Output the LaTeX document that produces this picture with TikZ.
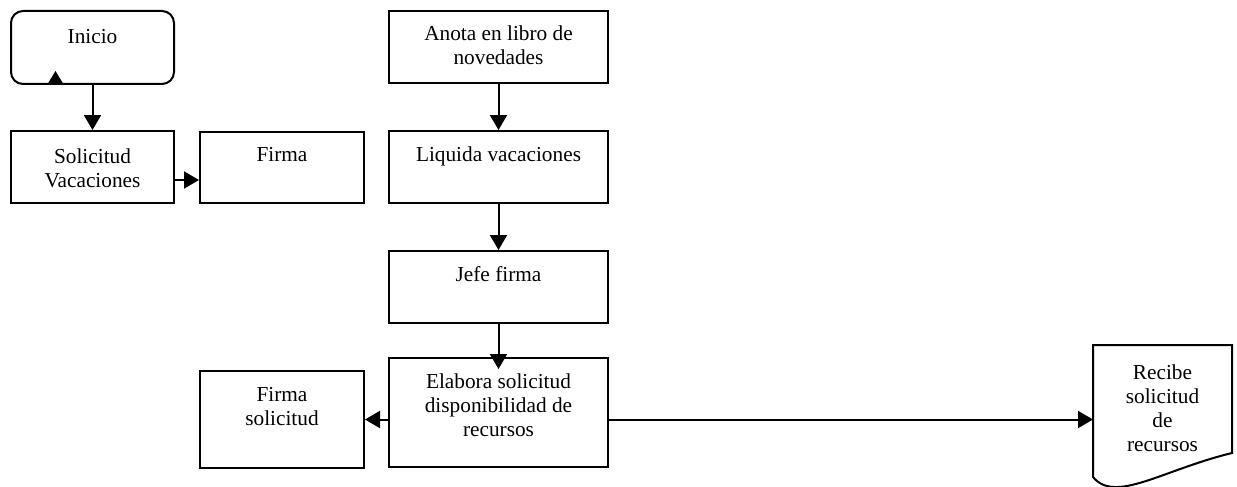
\documentclass[tikz,border=0pt]{standalone}
\usepackage{fontspec}
\setmainfont{Liberation Serif}
\usetikzlibrary{arrows.meta}
% centred lines whose baseline is that of the first line
\newcommand\toplines[1]{\begin{tabular}[t]{@{}c@{}}#1\end{tabular}}
\begin{document}
\begin{tikzpicture}[x=1pt,y=-1pt,
  font=\fontsize{21.3}{24}\selectfont,
  % process box: #1 = width, #2 = depth below the first baseline
  box/.style 2 args={draw, line width=2pt, rectangle,
    inner xsep=4pt, inner ysep=0pt, text height=30pt,
    minimum width=#1, text depth=#2, anchor=north west},
  conn/.style={line width=2pt, -{Triangle[length=15pt,width=17pt]}}]
\useasboundingbox (0,0) rectangle (1237,487);

% left column
\node[box={163pt}{40pt}, text height=33pt, rounded corners=12pt] (inicio) at (10,10) {Inicio};
\fill ([xshift=37pt]inicio.south west) -- ++(17,0) -- ++(-8.5,-14) -- cycle;
\node[box={163pt}{40pt}, text height=32pt] (solicitud) at (10,130) {\toplines{Solicitud\\Vacaciones}};
\node[box={164pt}{42pt}, text height=29pt] (firma) at (199,131) {Firma};
\node[box={164pt}{67pt}] (firmasol) at (199,370) {\toplines{Firma\\solicitud}};

% middle column
\node[box={219pt}{42pt}] (anota) at (388,10) {\toplines{Anota en libro de\\novedades}};
\node[box={219pt}{42pt}] (liquida) at (388,130) {Liquida vacaciones};
\node[box={219pt}{42pt}] (jefe) at (388,250) {Jefe firma};
\node[box={219pt}{79pt}] (elabora) at (388,357) {\toplines{Elabora solicitud\\disponibilidad de\\recursos}};

% document shape
\node[box={137pt}{97pt}, draw=none, text height=33pt] (recibe) at (1093,345) {\toplines{Recibe\\solicitud\\de\\recursos}};
\draw[line width=2pt] (recibe.south west) -- (recibe.north west) -- (recibe.north east)
  -- ++(0,108) .. controls +(-70,17) and +(22,27) .. (recibe.south west) -- cycle;

% connectors
\draw[conn] (inicio.south) -- (solicitud.north);
\coordinate (sv) at ([yshift=-13pt]solicitud.east);
\draw[conn] (sv) -- (sv -| firma.west);
\draw[conn] (anota.south) -- (liquida.north);
\draw[conn] (liquida.south) -- (jefe.north);
\draw[conn, shorten >=-12pt] (jefe.south) -- (elabora.north);
\draw[conn] (elabora.west |- firmasol.east) -- (firmasol.east);
\draw[conn] (elabora.east |- firmasol.east) -- (recibe.west |- firmasol.east);
\end{tikzpicture}
\end{document}
